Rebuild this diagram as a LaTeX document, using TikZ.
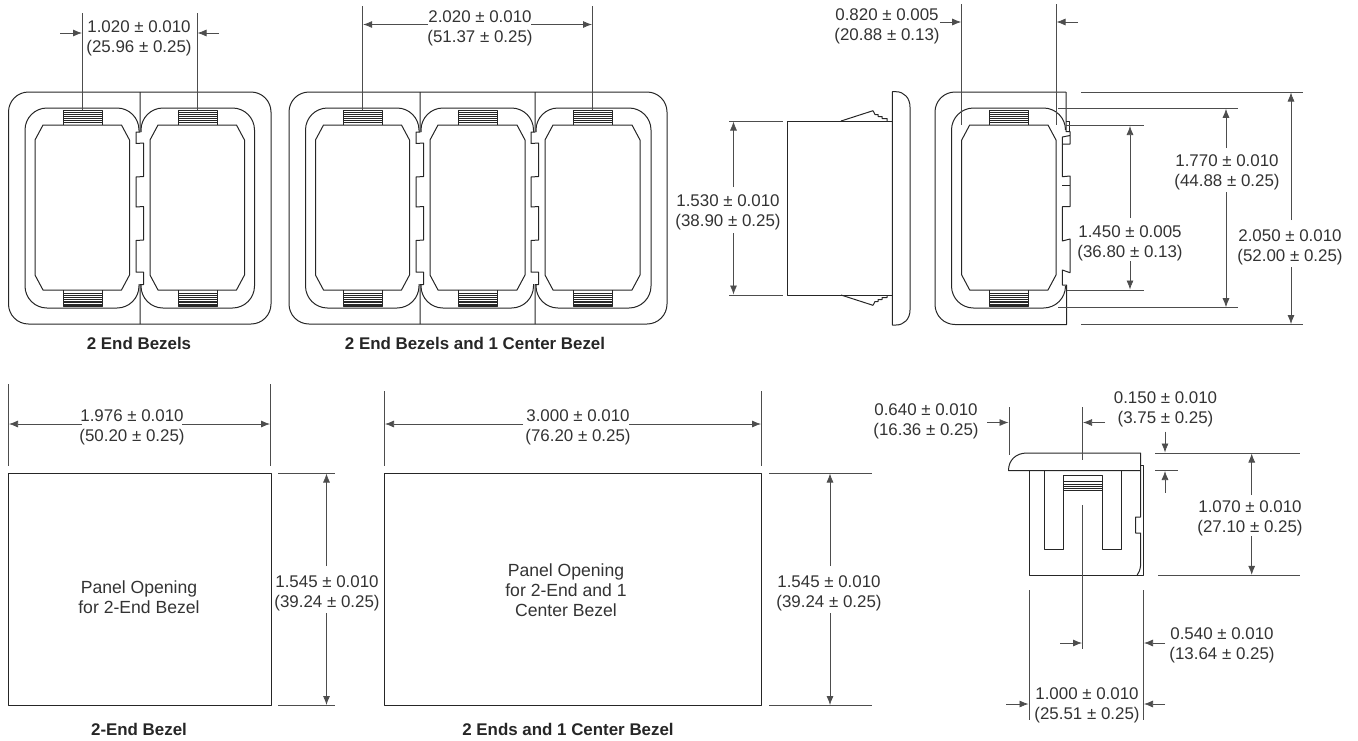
\documentclass[tikz,border=0pt]{standalone}
\usepackage{fontspec}
\setmainfont{Liberation Sans}
\usetikzlibrary{arrows.meta}
\definecolor{ink}{HTML}{262626}
\definecolor{dimink}{HTML}{4D4D4D}
\definecolor{txt}{HTML}{333333}
\tikzset{
  outline/.style={draw=ink,line width=1pt,line join=round},
  thin hatch/.style={draw=ink,line width=0.6pt},
  dimline/.style={draw=dimink,line width=0.75pt},
  dimarrow/.style={dimline,-{Latex[length=9pt,width=7pt]}},
  dimtext/.style={align=center,inner sep=0pt,text=txt,yshift=-2.5pt,font=\fontsize{16.9}{20}\selectfont},
  paneltext/.style={align=center,inner sep=0pt,text=txt,font=\fontsize{17.6}{20}\selectfont},
  captext/.style={align=center,inner sep=0pt,text=ink,font=\fontsize{16.9}{18}\selectfont\bfseries},
}
% zig-zag joint between two bezels, centred on x
\newcommand{\jointzig}[1]{%
  \begin{scope}[shift={(#1,0)}]
  \draw[outline] (0,92) -- (0,132) -- (-4,132) -- (-4,143.5) -- (3.5,143) -- (3.5,176.5) -- (-4,177)
    -- (-4,207) -- (3.5,206.5) -- (3.5,240) -- (-4,240.5) -- (-4,272) -- (3.5,272) -- (3.5,284.5) -- (0,284.5) -- (0,324);
  \end{scope}}
% octagonal opening and the two toothed clips: #1 left of opening, #2 right of opening, #3 left of clip, #4 right of clip
\newcommand{\bezelopen}[4]{%
  \draw[outline] (#1+8,125) -- (#2-8,125) -- (#2,140) -- (#2,275) -- (#2-8,290) -- (#1+8,290) -- (#1,275) -- (#1,140) -- cycle;
  \draw[outline] (#3,125) -- (#3,110) -- (#4,110) -- (#4,125);
  \draw[outline] (#3,290) -- (#3,306.5) -- (#4,306.5) -- (#4,290);
  \foreach \yy in {112,114,116,118,120,122}{\draw[thin hatch] (#3,\yy) -- (#4,\yy);}
  \foreach \yy in {293,295,297,299,301,302.5,304,305.5}{\draw[thin hatch] (#3,\yy) -- (#4,\yy);}
}
\begin{document}
\begin{tikzpicture}[x=1pt,y=-1pt]
\useasboundingbox (0,0) rectangle (1358,740);

% ---------- 2 end bezels
\draw[outline,rounded corners=20] (8.5,92) rectangle (271,324);
\draw[outline,rounded corners=22] (139,132) -- (139,108) -- (25,108) -- (25,308) -- (139,308) -- (139,284);
\draw[outline,rounded corners=22] (141,132) -- (141,108) -- (254.5,108) -- (254.5,308) -- (141,308) -- (141,284);
\jointzig{140}
\bezelopen{35}{129.5}{63}{102}
\bezelopen{150}{244.5}{178}{217}
% ---------- 2 end + 1 centre
\draw[outline,rounded corners=20] (289,92) rectangle (667,324);
\draw[outline,rounded corners=22] (419,132) -- (419,108) -- (305.5,108) -- (305.5,308) -- (419,308) -- (419,284);
\draw[outline,rounded corners=22] (421,132) -- (421,108) -- (533.5,108) -- (533.5,132);
\draw[outline,rounded corners=22] (421,284) -- (421,308) -- (533.5,308) -- (533.5,284);
\draw[outline,rounded corners=22] (536,132) -- (536,108) -- (651,108) -- (651,308) -- (536,308) -- (536,284);
\jointzig{420}
\jointzig{535}
\bezelopen{315.5}{409.5}{343.5}{382.5}
\bezelopen{430}{525}{458.5}{497}
\bezelopen{545}{640}{573}{612}
% dims top-left
\draw[dimline] (82.5,13) -- (82.5,110);
\draw[dimline] (197,13) -- (197,110);
\draw[dimarrow] (60,33) -- (82,33);
\draw[dimarrow] (219,33) -- (197.5,33);
\node[dimtext] (d1020) at (139,36) {1.020 ± 0.010\\(25.96 ± 0.25)};
\draw[dimline] (362.7,6) -- (362.7,110);
\draw[dimline] (592.3,6) -- (592.3,110);
\draw[dimarrow] (428,24.5) -- (363.2,24.5);
\draw[dimarrow] (531,24.5) -- (592,24.5);
\node[dimtext] (d2020) at (480,26) {2.020 ± 0.010\\(51.37 ± 0.25)};
\node[captext] (cap1) at (139,343) {2 End Bezels};
\node[captext] (cap2) at (475,343) {2 End Bezels and 1 Center Bezel};

% ---------- side view
\draw[outline] (787.5,121) rectangle (892,295);
\draw[outline] (892.3,91.7) -- (896,91.7) .. controls (904,91.7) and (910,98) .. (910,107) -- (910,310) .. controls (910,319) and (904,325) .. (896,325) -- (892.3,325) -- cycle;
\draw[outline] (841,121) -- (873,110.7) -- (875,114.5) -- (878,114.5) -- (878,116.5) -- (882,116.5) -- (882,118.5) -- (887,118.5) -- (887,121);
\draw[outline] (841,295) -- (873,305.3) -- (875,301.5) -- (878,301.5) -- (878,299.5) -- (882,299.5) -- (882,297.5) -- (887,297.5) -- (887,295);
\draw[dimline] (729,121) -- (783,121);
\draw[dimline] (729,295) -- (783,295);
\draw[dimarrow] (733.5,187) -- (733.5,121.5);
\draw[dimarrow] (733.5,233) -- (733.5,294.5);
\node[dimtext] (d1530) at (728,210) {1.530 ± 0.010\\(38.90 ± 0.25)};

% ---------- end view
\draw[outline,rounded corners=20] (1066,92) -- (935,92) -- (935,324.5) -- (1066,324.5);
\draw[outline,rounded corners=22] (1065.5,130) -- (1065.5,108) -- (951.5,108) -- (951.5,308) -- (1065.5,308) -- (1065.5,286);
\draw[outline] (1066,92) -- (1066,131.7) -- (1070,131.7) -- (1070,144) -- (1062.3,144) -- (1062.3,137) -- (1070,135.5);
\draw[outline] (1066,121.7) -- (1069,121.7) -- (1069,131.7);
\draw[outline] (1062.3,144) -- (1062.3,176.7) -- (1070,176) -- (1070,206.7) -- (1062.3,206.7) -- (1062.3,241) -- (1070,239) -- (1070,272.7) -- (1062.3,270) -- (1062.3,285) -- (1066.5,285) -- (1066.5,324.5) -- (1066,324.5);
\draw[outline] (1062.3,185) -- (1070,185);
\bezelopen{961.7}{1056}{989.5}{1028.5}
\draw[dimline] (961.7,4) -- (961.7,125);
\draw[dimline] (1056,4) -- (1056,125);
\draw[dimarrow] (940,22) -- (961.2,22);
\draw[dimarrow] (1078,22) -- (1056.5,22);
\node[dimtext] (d0820) at (887,23.5) {0.820 ± 0.005\\(20.88 ± 0.13)};
\draw[dimline] (1081,92) -- (1303,92);
\draw[dimline] (1081,324.5) -- (1303,324.5);
\draw[dimline] (1058,108.3) -- (1238,108.3);
\draw[dimline] (1058,307.7) -- (1238,307.7);
\draw[dimline] (1066,125.5) -- (1144,125.5);
\draw[dimline] (1067,290) -- (1144,290);
\draw[dimarrow] (1130,218) -- (1130,126);
\draw[dimarrow] (1130,261) -- (1130,289.5);
\draw[dimarrow] (1226,148) -- (1226,108.8);
\draw[dimarrow] (1226,192) -- (1226,307.2);
\draw[dimarrow] (1291,220) -- (1291,92.5);
\draw[dimarrow] (1291,267) -- (1291,324);
\node[dimtext] (d1450) at (1130,240.5) {1.450 ± 0.005\\(36.80 ± 0.13)};
\node[dimtext] (d1770) at (1227,170) {1.770 ± 0.010\\(44.88 ± 0.25)};
\node[dimtext] (d2050) at (1290,245) {2.050 ± 0.010\\(52.00 ± 0.25)};

% ---------- panel opening 1
\draw[outline] (8.5,473) rectangle (271,705.5);
\draw[dimline] (8.5,384) -- (8.5,466);
\draw[dimline] (270.5,384) -- (270.5,466);
\draw[dimarrow] (82,424) -- (9,424);
\draw[dimarrow] (182,424) -- (270,424);
\node[dimtext] (d1976) at (132,424.5) {1.976 ± 0.010\\(50.20 ± 0.25)};
\node[paneltext] (p1) at (139,597.5) {Panel Opening\\for 2-End Bezel};
\draw[dimline] (278,473) -- (335,473);
\draw[dimline] (278,705.5) -- (335,705.5);
\draw[dimarrow] (326.5,566) -- (326.5,473.5);
\draw[dimarrow] (326.5,613) -- (326.5,705);
\node[dimtext] (d1545a) at (327,591) {1.545 ± 0.010\\(39.24 ± 0.25)};
\node[captext] (cap3) at (139,729) {2-End Bezel};

% ---------- panel opening 2
\draw[outline] (384.5,473) rectangle (761.5,705.5);
\draw[dimline] (384.5,391) -- (384.5,466);
\draw[dimline] (761.5,391) -- (761.5,466);
\draw[dimarrow] (523,424) -- (385,424);
\draw[dimarrow] (629,424) -- (761,424);
\node[dimtext] (d3000) at (578,425) {3.000 ± 0.010\\(76.20 ± 0.25)};
\node[paneltext] (p2) at (566,590.5) {Panel Opening\\for 2-End and 1\\Center Bezel};
\draw[dimline] (769,473) -- (872,473);
\draw[dimline] (769,705.5) -- (872,705.5);
\draw[dimarrow] (830,566) -- (830,473.5);
\draw[dimarrow] (830,613) -- (830,705);
\node[dimtext] (d1545b) at (829,591) {1.545 ± 0.010\\(39.24 ± 0.25)};
\node[captext] (cap4) at (568,729) {2 Ends and 1 Center Bezel};

% ---------- bottom view
\draw[outline] (1008.5,470.5) .. controls (1008.5,460) and (1016,453) .. (1027,453) -- (1140.7,453) -- (1140.7,470.5) -- cycle;
\draw[outline] (1029,470.5) -- (1029,575.3) -- (1143.5,575.3) -- (1143.5,465) -- (1140.7,465);
\draw[outline] (1140.7,470.5) -- (1140.7,517) -- (1135.7,517) -- (1135.7,533) -- (1140.7,533) -- (1140.7,565) .. controls (1140,570) and (1139,573) .. (1137,575.3);
\draw[outline] (1044,470.5) -- (1044,549) -- (1063.5,549) -- (1063.5,475.5) -- (1102,475.5) -- (1102,549) -- (1121.5,549) -- (1121.5,470.5);
\foreach \yy in {481,484,486,488,490}{\draw[thin hatch] (1063.5,\yy) -- (1102,\yy);}
\draw[dimline] (1082.5,407) -- (1082.5,460);
\draw[dimline] (1082.5,505) -- (1082.5,649);
\draw[dimline] (1009,407) -- (1009,455);
\draw[dimarrow] (987,422.5) -- (1008.5,422.5);
\draw[dimarrow] (1105,422.5) -- (1083,422.5);
\node[dimtext] (d0640) at (926,418.5) {0.640 ± 0.010\\(16.36 ± 0.25)};
\node[dimtext] (d0150) at (1165.5,407) {0.150 ± 0.010\\(3.75 ± 0.25)};
\draw[dimarrow] (1165,431.5) -- (1165,452.5);
\draw[dimarrow] (1165,492.7) -- (1165,471);
\draw[dimline] (1155,453) -- (1300,453);
\draw[dimline] (1155,470.3) -- (1178,470.3);
\draw[dimline] (1158,575.3) -- (1300,575.3);
\draw[dimarrow] (1251.7,495) -- (1251.7,453.5);
\draw[dimarrow] (1251.7,536) -- (1251.7,574.8);
\node[dimtext] (d1070) at (1250,516) {1.070 ± 0.010\\(27.10 ± 0.25)};
\draw[dimline] (1029,590) -- (1029,720);
\draw[dimline] (1143.5,590) -- (1143.5,720);
\draw[dimarrow] (1060,643) -- (1082,643);
\draw[dimarrow] (1165,643) -- (1144,643);
\node[dimtext] (d0540) at (1222,643) {0.540 ± 0.010\\(13.64 ± 0.25)};
\draw[dimarrow] (1006,704) -- (1028.5,704);
\draw[dimarrow] (1165,704) -- (1144,704);
\node[dimtext] (d1000) at (1087,703) {1.000 ± 0.010\\(25.51 ± 0.25)};
\end{tikzpicture}
\end{document}
